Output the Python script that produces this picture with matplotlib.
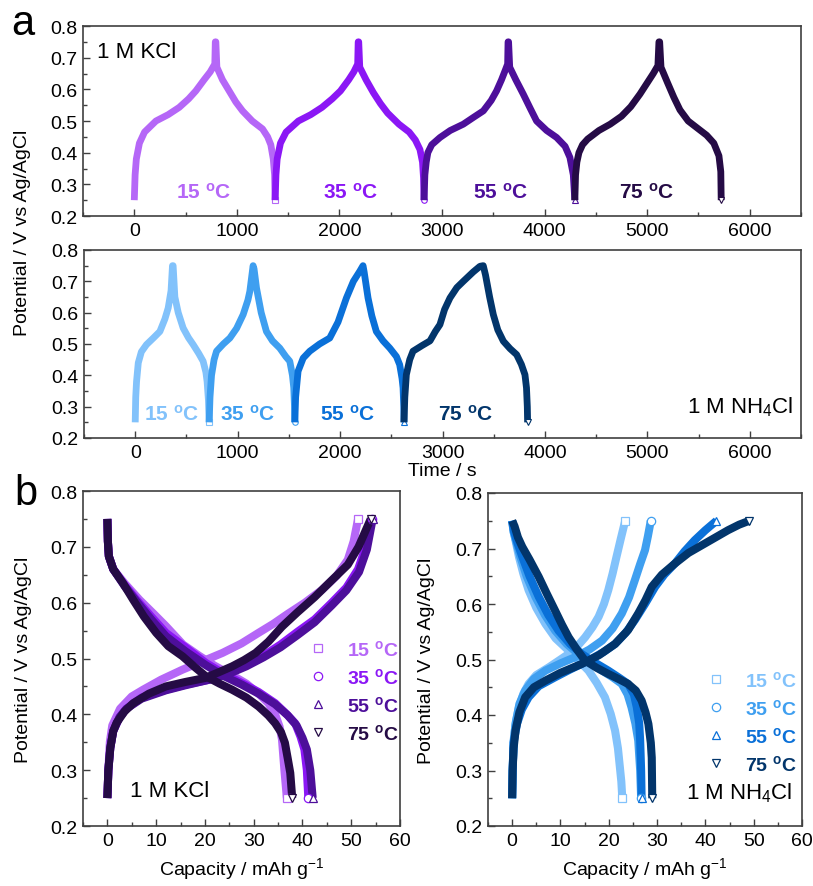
import matplotlib
matplotlib.use("Agg")
import matplotlib.pyplot as plt
from matplotlib.lines import Line2D
from matplotlib.ticker import MultipleLocator, FormatStrFormatter

plt.rcParams['font.family'] = ['Liberation Sans', 'DejaVu Sans']
plt.rcParams['mathtext.fontset'] = 'custom'
plt.rcParams['mathtext.rm'] = 'Liberation Sans'
plt.rcParams['mathtext.bf'] = 'Liberation Sans:bold'
plt.rcParams['mathtext.it'] = 'Liberation Sans:italic'

temps = ['15', '35', '55', '75']
markers = ['s', 'o', '^', 'v']
kcl_colors = ['#b567f7', '#8b17f5', '#4d0f9a', '#250b45']
nh4_colors = ['#82c2fb', '#3f9ff0', '#0a70d8', '#02356b']

# ---------------- panel a : potential vs time, 1 M KCl ----------------
kcl_t15 = [0, 8, 20, 50, 100, 211, 330, 438, 530, 600, 680, 740, 785, 790,
           795, 805, 860, 925, 990, 1055, 1150, 1250, 1300, 1331, 1355, 1368, 1373]
kcl_v15 = [0.25, 0.33, 0.38, 0.43, 0.465, 0.50, 0.52, 0.543, 0.57, 0.595, 0.63, 0.655, 0.68, 0.75,
           0.75, 0.67, 0.63, 0.595, 0.56, 0.532, 0.50, 0.475, 0.45, 0.425, 0.38, 0.33, 0.25]
kcl_t35 = [1373, 1381, 1393, 1425, 1480, 1600, 1720, 1830, 1930, 2010, 2090, 2140, 2178, 2183,
           2188, 2198, 2260, 2330, 2400, 2470, 2580, 2680, 2740, 2785, 2810, 2820, 2825]
kcl_v35 = [0.25, 0.33, 0.38, 0.43, 0.465, 0.50, 0.52, 0.543, 0.57, 0.595, 0.63, 0.655, 0.68, 0.75,
           0.75, 0.67, 0.63, 0.59, 0.555, 0.525, 0.49, 0.465, 0.44, 0.41, 0.37, 0.32, 0.25]
kcl_t55 = [2825, 2833, 2846, 2862, 2900, 2981, 3080, 3208, 3300, 3403, 3480, 3532, 3580, 3614, 3640, 3644,
           3649, 3660, 3720, 3792, 3860, 3922, 4020, 4117, 4200, 4247, 4280, 4295]
kcl_v55 = [0.25, 0.33, 0.37, 0.40, 0.425, 0.448, 0.47, 0.49, 0.51, 0.532, 0.565, 0.595, 0.63, 0.658, 0.68, 0.75,
           0.75, 0.67, 0.63, 0.585, 0.54, 0.50, 0.47, 0.448, 0.42, 0.385, 0.33, 0.25]
kcl_t75 = [4295, 4302, 4315, 4335, 4370, 4420, 4530, 4640, 4750, 4840, 4930, 5000, 5060, 5105, 5115,
           5122, 5135, 5200, 5260, 5320, 5400, 5480, 5580, 5650, 5700, 5718, 5722]
kcl_v75 = [0.25, 0.33, 0.37, 0.40, 0.425, 0.443, 0.47, 0.49, 0.515, 0.545, 0.585, 0.62, 0.65, 0.675, 0.75,
           0.75, 0.67, 0.62, 0.575, 0.535, 0.50, 0.48, 0.455, 0.43, 0.39, 0.34, 0.25]

# ---------------- panel a : potential vs time, 1 M NH4Cl ----------------
nh4_t15 = [0, 5, 13, 30, 60, 110, 180, 241, 290, 322, 350, 364,
           370, 387, 420, 468, 520, 566, 620, 663, 690, 702, 715, 722]
nh4_v15 = [0.25, 0.33, 0.38, 0.44, 0.475, 0.498, 0.52, 0.54, 0.58, 0.615, 0.67, 0.75,
           0.75, 0.65, 0.60, 0.551, 0.52, 0.498, 0.47, 0.445, 0.41, 0.38, 0.32, 0.25]
nh4_t35 = [722, 730, 745, 770, 794, 860, 924, 990, 1054, 1100, 1119, 1151,
           1160, 1184, 1230, 1281, 1340, 1411, 1470, 1509, 1535, 1548, 1555, 1558]
nh4_v35 = [0.25, 0.33, 0.40, 0.45, 0.477, 0.50, 0.519, 0.55, 0.594, 0.64, 0.668, 0.75,
           0.74, 0.679, 0.60, 0.54, 0.51, 0.487, 0.46, 0.445, 0.40, 0.36, 0.30, 0.25]
nh4_t55 = [1558, 1566, 1590, 1640, 1704, 1800, 1899, 1980, 2062, 2130, 2192, 2224,
           2235, 2273, 2310, 2354, 2420, 2485, 2550, 2582, 2605, 2615, 2622, 2624]
nh4_v55 = [0.25, 0.33, 0.413, 0.455, 0.477, 0.50, 0.519, 0.57, 0.647, 0.70, 0.732, 0.75,
           0.73, 0.647, 0.59, 0.54, 0.51, 0.487, 0.46, 0.434, 0.39, 0.36, 0.30, 0.25]
nh4_t75 = [2624, 2632, 2647, 2680, 2712, 2800, 2878, 2930, 2975, 3020, 3073, 3140, 3203, 3300, 3366, 3398,
           3420, 3460, 3496, 3540, 3594, 3660, 3724, 3770, 3805, 3820, 3828, 3831]
nh4_v75 = [0.25, 0.33, 0.402, 0.45, 0.477, 0.495, 0.51, 0.54, 0.562, 0.61, 0.647, 0.68, 0.70, 0.73, 0.748, 0.75,
           0.72, 0.65, 0.594, 0.545, 0.509, 0.485, 0.466, 0.435, 0.402, 0.36, 0.30, 0.25]

# ---------------- panel b : potential vs capacity, 1 M KCl ----------------
kcl_cc15 = [0, 0.2, 0.5, 1, 2.6, 5, 7.3, 11, 15.4, 19.5, 23.6, 27.5, 31, 34, 37, 40.5, 44, 47, 49.3, 50.5, 51.4]
kcl_cv15 = [0.25, 0.30, 0.35, 0.38, 0.41, 0.432, 0.444, 0.462, 0.48, 0.495, 0.51, 0.527, 0.546, 0.562, 0.58, 0.60, 0.623, 0.648, 0.677, 0.71, 0.75]
kcl_cc35 = [0, 0.2, 0.6, 1.2, 2.5, 3.9, 7, 12, 16, 20.9, 25, 28.5, 32, 35.5, 39, 42.5, 46, 49, 51.4, 53, 54.2]
kcl_cv35 = [0.25, 0.30, 0.34, 0.37, 0.395, 0.41, 0.43, 0.444, 0.453, 0.462, 0.474, 0.488, 0.505, 0.525, 0.548, 0.57, 0.60, 0.627, 0.66, 0.70, 0.75]
kcl_cc55 = [0, 0.2, 0.6, 1.2, 2.5, 3.9, 7, 12, 16, 20.9, 25, 28.5, 32, 35.5, 39, 42.5, 46, 49, 51.6, 53.2, 54.4]
kcl_cv55 = [0.25, 0.30, 0.34, 0.37, 0.395, 0.41, 0.428, 0.443, 0.452, 0.462, 0.473, 0.486, 0.502, 0.52, 0.542, 0.565, 0.595, 0.622, 0.655, 0.695, 0.75]
kcl_cc75 = [0, 0.2, 0.6, 1.2, 1.9, 3.5, 5.3, 8.5, 12, 16, 20, 23, 25.6, 28, 30.4, 33, 35.8, 39, 42.5, 46, 49.3, 51.5, 54]
kcl_cv75 = [0.25, 0.30, 0.34, 0.37, 0.385, 0.405, 0.42, 0.437, 0.45, 0.458, 0.465, 0.476, 0.486, 0.497, 0.51, 0.53, 0.557, 0.583, 0.61, 0.64, 0.668, 0.70, 0.75]

kcl_dc15 = [0, 0.1, 0.3, 1.2, 3.5, 6.6, 9.5, 12, 15.5, 18.8, 22, 25.6, 28.5, 31, 33, 34.4, 35.3, 35.8, 36.3, 36.8]
kcl_dv15 = [0.75, 0.71, 0.683, 0.66, 0.635, 0.605, 0.58, 0.558, 0.525, 0.505, 0.487, 0.47, 0.455, 0.437, 0.42, 0.40, 0.378, 0.355, 0.30, 0.25]
kcl_dc35 = [0, 0.1, 0.3, 1.2, 3.5, 6, 9, 12, 16, 20.2, 24, 27.6, 31, 34.4, 36.8, 38.5, 39.6, 40.4, 40.9, 41.2]
kcl_dv35 = [0.75, 0.71, 0.683, 0.66, 0.632, 0.605, 0.575, 0.546, 0.52, 0.492, 0.472, 0.456, 0.44, 0.42, 0.40, 0.384, 0.36, 0.337, 0.30, 0.25]
kcl_dc55 = [0, 0.1, 0.3, 1.2, 3.5, 6, 9, 12, 16, 20.2, 24, 27.6, 31, 34.4, 37, 38.8, 40, 40.9, 41.6, 42.1]
kcl_dv55 = [0.75, 0.71, 0.683, 0.66, 0.63, 0.602, 0.57, 0.54, 0.513, 0.488, 0.468, 0.453, 0.437, 0.418, 0.398, 0.38, 0.358, 0.337, 0.30, 0.25]
kcl_dc75 = [0, 0.1, 0.3, 1.2, 3.2, 5.3, 7.5, 10, 12.5, 15.4, 18, 20.2, 23, 25.6, 28.5, 31, 33, 34.4, 35.6, 36.4, 37, 37.5, 37.9]
kcl_dv75 = [0.75, 0.71, 0.683, 0.66, 0.635, 0.605, 0.575, 0.546, 0.522, 0.504, 0.484, 0.468, 0.455, 0.444, 0.43, 0.414, 0.398, 0.384, 0.368, 0.349, 0.32, 0.295, 0.25]

# ---------------- panel b : potential vs capacity, 1 M NH4Cl ----------------
nh4_cc15 = [0, 0.1, 0.3, 0.8, 1.4, 2.3, 3.4, 5, 7.6, 10, 11.7, 13.5, 15.1, 16.6, 17.9, 19, 19.9, 20.8, 21.6, 22.5, 23.4]
nh4_cv15 = [0.25, 0.30, 0.354, 0.39, 0.414, 0.438, 0.456, 0.472, 0.486, 0.50, 0.51, 0.524, 0.54, 0.558, 0.577, 0.60, 0.625, 0.655, 0.685, 0.718, 0.75]
nh4_cc35 = [0, 0.1, 0.3, 0.7, 1.5, 2.7, 4.5, 6.9, 10, 13, 16, 18.6, 20.8, 22.7, 24.2, 25.4, 26.5, 27.5, 28.1, 28.7]
nh4_cv35 = [0.25, 0.30, 0.35, 0.384, 0.42, 0.444, 0.465, 0.48, 0.493, 0.504, 0.518, 0.534, 0.556, 0.583, 0.612, 0.643, 0.672, 0.697, 0.722, 0.75]
nh4_cc55 = [0, 0.1, 0.3, 1, 2, 3.4, 5.5, 8.9, 12, 15.8, 19, 21.3, 23.5, 25.4, 27.5, 29.6, 31.5, 33.7, 35.7, 37.8, 40, 42.3]
nh4_cv55 = [0.25, 0.30, 0.35, 0.384, 0.41, 0.432, 0.452, 0.468, 0.482, 0.498, 0.514, 0.528, 0.548, 0.571, 0.60, 0.631, 0.653, 0.673, 0.695, 0.715, 0.733, 0.75]
nh4_cc75 = [0, 0.1, 0.3, 0.7, 1.5, 2.7, 4.5, 6.9, 10, 14.4, 18, 21.3, 24, 26.1, 27.6, 28.9, 31, 33.7, 36.5, 39.9, 42.5, 44.7, 47, 49.1]
nh4_cv75 = [0.25, 0.30, 0.34, 0.372, 0.405, 0.432, 0.45, 0.462, 0.476, 0.492, 0.508, 0.528, 0.553, 0.583, 0.607, 0.631, 0.653, 0.673, 0.692, 0.709, 0.722, 0.733, 0.743, 0.75]

nh4_dc15 = [0, 0.3, 0.8, 1.4, 2.3, 3.4, 5, 6.9, 9, 11.7, 13.8, 15.8, 17.5, 19.2, 20.4, 21.3, 21.9, 22.3, 22.6, 22.8]
nh4_dv15 = [0.75, 0.73, 0.71, 0.685, 0.655, 0.625, 0.593, 0.564, 0.538, 0.516, 0.498, 0.48, 0.458, 0.432, 0.402, 0.372, 0.34, 0.306, 0.28, 0.25]
nh4_dc35 = [0, 0.3, 0.9, 1.7, 3, 4.8, 6.8, 8.9, 11.3, 13.7, 16.2, 18.6, 20.8, 22.7, 23.9, 24.7, 25.5, 26.1, 26.5, 26.7]
nh4_dv35 = [0.75, 0.73, 0.71, 0.685, 0.65, 0.613, 0.58, 0.552, 0.528, 0.51, 0.494, 0.48, 0.468, 0.456, 0.437, 0.414, 0.385, 0.354, 0.30, 0.25]
nh4_dc55 = [0, 0.4, 1.1, 2.1, 3.6, 5.5, 7.5, 9.6, 12, 14.4, 17.2, 19.9, 22, 24, 25.2, 25.8, 26.3, 26.5, 26.7, 26.8]
nh4_dv55 = [0.75, 0.73, 0.71, 0.685, 0.65, 0.613, 0.58, 0.552, 0.528, 0.51, 0.494, 0.48, 0.468, 0.456, 0.437, 0.414, 0.385, 0.354, 0.30, 0.25]
nh4_dc75 = [0, 0.5, 1.2, 2.1, 3.6, 5.5, 7.2, 8.9, 10.3, 11.7, 13.4, 15.1, 17.5, 19.9, 22, 24, 25.6, 26.8, 27.6, 28.2, 28.7, 28.9, 29]
nh4_dv75 = [0.75, 0.74, 0.72, 0.703, 0.68, 0.649, 0.618, 0.588, 0.563, 0.54, 0.518, 0.498, 0.485, 0.474, 0.465, 0.456, 0.444, 0.426, 0.405, 0.384, 0.35, 0.323, 0.25]

# label positions (x in data units) for panel a temperature tags
kcl_tag_x = [672, 2113, 3574, 4995]
nh4_tag_x = [360, 1100, 2074, 3222]

kcl_time = [(kcl_t15, kcl_v15), (kcl_t35, kcl_v35), (kcl_t55, kcl_v55), (kcl_t75, kcl_v75)]
nh4_time = [(nh4_t15, nh4_v15), (nh4_t35, nh4_v35), (nh4_t55, nh4_v55), (nh4_t75, nh4_v75)]
kcl_cap = [(kcl_cc15, kcl_cv15, kcl_dc15, kcl_dv15), (kcl_cc35, kcl_cv35, kcl_dc35, kcl_dv35),
           (kcl_cc55, kcl_cv55, kcl_dc55, kcl_dv55), (kcl_cc75, kcl_cv75, kcl_dc75, kcl_dv75)]
nh4_cap = [(nh4_cc15, nh4_cv15, nh4_dc15, nh4_dv15), (nh4_cc35, nh4_cv35, nh4_dc35, nh4_dv35),
           (nh4_cc55, nh4_cv55, nh4_dc55, nh4_dv55), (nh4_cc75, nh4_cv75, nh4_dc75, nh4_dv75)]

W, H = 813, 887
fig = plt.figure(figsize=(W / 100, H / 100), dpi=100)


def box(l, t, r, b):
    return [l / W, 1 - b / H, (r - l) / W, (b - t) / H]


SPINE = '#404040'
TICK_FS = 14
LAB_FS = 14


def style(ax, xmaj, xmin_, xlim):
    ax.set_xlim(*xlim)
    ax.set_ylim(0.2, 0.8)
    ax.xaxis.set_major_locator(MultipleLocator(xmaj))
    ax.xaxis.set_minor_locator(MultipleLocator(xmin_))
    ax.yaxis.set_major_locator(MultipleLocator(0.1))
    ax.yaxis.set_minor_locator(MultipleLocator(0.05))
    ax.tick_params(which='both', direction='in', top=False, right=False,
                   colors=SPINE, labelcolor='black', labelsize=TICK_FS)
    ax.tick_params(which='major', length=5, width=1.0, pad=4)
    ax.tick_params(which='minor', length=3, width=1.0)
    ax.yaxis.set_major_formatter(FormatStrFormatter('%.1f'))
    for s in ax.spines.values():
        s.set_color(SPINE)
        s.set_linewidth(1.2)


def tlabel(t):
    return t + r' $^{\mathbf{o}}$C'


# panel a top
axA1 = fig.add_axes(box(83, 27, 801, 217))
style(axA1, 1000, 500, (-500, 6500))
for i, ((t, v), c, m, tx) in enumerate(zip(kcl_time, kcl_colors, markers, kcl_tag_x)):
    axA1.plot(t, v, color=c, lw=4.9, solid_joinstyle='round', solid_capstyle='butt')
    axA1.plot(t[-1:], v[-1:], ls='none', marker=m, ms=4, mfc='white', mec=c, mew=0.8)
    axA1.text(tx, 0.277, tlabel(temps[i]), color=c, fontsize=15,
              fontweight='bold', ha='center', va='center')
axA1.text(0.02, 0.868, '1 M KCl', transform=axA1.transAxes, fontsize=16,
          ha='left', va='center')

# panel a bottom
axA2 = fig.add_axes(box(84, 251, 801, 439))
style(axA2, 1000, 500, (-500, 6500))
for i, ((t, v), c, m, tx) in enumerate(zip(nh4_time, nh4_colors, markers, nh4_tag_x)):
    axA2.plot(t, v, color=c, lw=4.9, solid_joinstyle='round', solid_capstyle='butt')
    axA2.plot(t[-1:], v[-1:], ls='none', marker=m, ms=4, mfc='white', mec=c, mew=0.8)
    axA2.text(tx, 0.277, tlabel(temps[i]), color=c, fontsize=15,
              fontweight='bold', ha='center', va='center')
axA2.text(0.989, 0.17, r'1 M NH$_4$Cl', transform=axA2.transAxes, fontsize=16,
          ha='right', va='center')
axA2.set_xlabel('Time / s', fontsize=LAB_FS)
axA2.xaxis.set_label_coords(0.5, -0.13)

fig.text(23 / W, 1 - 233 / H, 'Potential / V vs Ag/AgCl', rotation=90,
         fontsize=LAB_FS, ha='center', va='center')


def cap_panel(ax, data, colors, name, name_pos, name_ha, leg_anchor):
    style(ax, 10, 5, (-5, 60))
    for (cc, cv, dc, dv), c in zip(data, colors):
        ax.plot(cc, cv, color=c, lw=5.8, solid_joinstyle='round', solid_capstyle='butt')
        ax.plot(dc, dv, color=c, lw=5.8, solid_joinstyle='round', solid_capstyle='butt')
    for (cc, cv, dc, dv), c, m in zip(data, colors, markers):
        ax.plot([cc[-1], dc[-1]], [cv[-1], dv[-1]], ls='none', marker=m, ms=6,
                mfc='white', mec=c, mew=0.9)
    handles = [Line2D([], [], ls='none', marker=m, ms=6, mfc='white', mec=c, mew=0.9)
               for m, c in zip(markers, colors)]
    ax.legend(handles, [tlabel(t) for t in temps], loc='upper left',
              bbox_to_anchor=leg_anchor, frameon=False, borderpad=0, borderaxespad=0,
              handlelength=1.0, handletextpad=1.0, labelspacing=0.41,
              prop={'size': 14, 'weight': 'bold'}, labelcolor=colors)
    ax.text(name_pos[0], name_pos[1], name, transform=ax.transAxes, fontsize=16,
            ha=name_ha, va='center')
    ax.set_ylabel('Potential / V vs Ag/AgCl', fontsize=LAB_FS)
    ax.set_xlabel(r'Capacity / mAh g$^{\mathrm{-1}}$', fontsize=LAB_FS)


axB1 = fig.add_axes(box(83, 492, 400, 827))
cap_panel(axB1, kcl_cap, kcl_colors, '1 M KCl', (0.147, 0.105), 'left', (0.711, 0.558))
axB1.yaxis.set_label_coords(-0.161, 0.5)
axB1.xaxis.set_label_coords(0.5, -0.088)

axB2 = fig.add_axes(box(488, 494, 802, 827))
cap_panel(axB2, nh4_cap, nh4_colors, r'1 M NH$_4$Cl', (0.971, 0.102), 'right', (0.695, 0.468))
axB2.yaxis.set_label_coords(-0.169, 0.5)
axB2.xaxis.set_label_coords(0.5, -0.088)

fig.text(11 / W, 1 - 35 / H, 'a', fontsize=30, ha='left', va='baseline')
fig.text(14 / W, 1 - 505 / H, 'b', fontsize=30, ha='left', va='baseline')

fig.savefig('out.png', dpi=100)
